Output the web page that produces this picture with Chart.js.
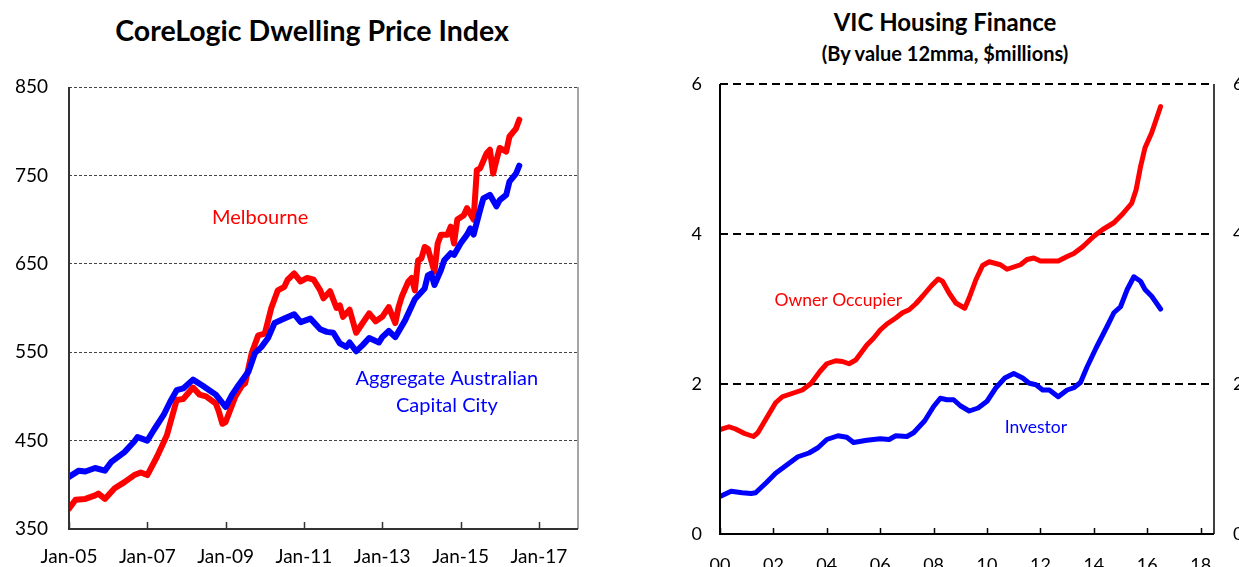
<!DOCTYPE html>
<html>
<head>
<meta charset="utf-8">
<title>CoreLogic Dwelling Price Index / VIC Housing Finance</title>
<script src="https://cdn.jsdelivr.net/npm/chart.js@4.4.1/dist/chart.umd.min.js"></script>
<style>
  html, body { margin: 0; padding: 0; width: 1239px; height: 567px; overflow: hidden; background: #fff; }
  body { position: relative; font-family: Lato, "Open Sans", sans-serif; }
  .box { position: absolute; top: 0; }
  .title { position: absolute; text-align: center; font-weight: bold; color: #000; white-space: nowrap; }
</style>
</head>
<body>
<div class="title" style="left:0;width:624px;top:13px;font-size:28.5px;line-height:34px;">CoreLogic Dwelling Price Index</div>
<div class="title" style="left:745px;width:400px;top:7px;font-size:24px;line-height:29px;">VIC Housing Finance</div>
<div class="title" style="left:745px;width:400px;top:41px;font-size:20px;line-height:24px;">(By value 12mma, $millions)</div>

<div class="box" style="left:0;width:620px;height:567px;"><canvas id="priceChart"></canvas></div>
<div class="box" style="left:640px;width:660px;height:590px;"><canvas id="financeChart"></canvas></div>

<script>
// ---- CoreLogic dwelling price index (monthly readings) ----
const melbDates = ['2005-01','2005-03','2005-06','2005-09','2005-10','2005-12','2006-03','2006-06','2006-09','2006-11',
  '2007-01','2007-04','2007-07','2007-10','2007-12','2008-03','2008-05','2008-07','2008-10','2008-11','2008-12','2009-01',
  '2009-04','2009-06','2009-07','2009-09','2009-11','2010-01','2010-03','2010-05','2010-07','2010-08','2010-10','2010-12',
  '2011-02','2011-04','2011-06','2011-07','2011-09','2011-11','2011-12','2012-01','2012-03','2012-05','2012-07','2012-09',
  '2012-11','2013-01','2013-03','2013-05','2013-06','2013-07','2013-09','2013-10','2013-11','2013-12','2014-01','2014-02',
  '2014-03','2014-05','2014-06','2014-07','2014-09','2014-10','2014-11','2014-12','2015-02','2015-03','2015-05','2015-06',
  '2015-07','2015-09','2015-10','2015-11','2015-12','2016-01','2016-03','2016-04','2016-06','2016-07'];
const melbValues = [373,383,384,388,390,384,396,403,411,414,
  411,432,456,496,497,510,502,500,492,482,469,471,
  500,512,515,549,569,571,600,620,624,632,639,630,
  634,632,620,611,619,600,603,590,598,572,583,594,
  585,590,601,583,601,613,630,634,620,654,656,669,
  667,641,673,683,683,692,673,700,705,713,700,756,
  758,775,779,752,767,781,777,794,803,813];

const aggDates = ['2005-01','2005-04','2005-06','2005-09','2005-12','2006-02','2006-06','2006-09','2006-10','2007-01',
  '2007-03','2007-06','2007-08','2007-10','2007-12','2008-03','2008-06','2008-08','2008-10','2009-01','2009-03','2009-05',
  '2009-08','2009-10','2009-12','2010-02','2010-04','2010-07','2010-10','2010-12','2011-03','2011-06','2011-08','2011-10',
  '2011-12','2012-02','2012-03','2012-05','2012-07','2012-09','2012-12','2013-01','2013-03','2013-05','2013-08','2013-11',
  '2014-02','2014-03','2014-04','2014-05','2014-07','2014-08','2014-10','2014-11','2015-01','2015-03','2015-04','2015-05',
  '2015-07','2015-08','2015-10','2015-12','2016-01','2016-03','2016-04','2016-06','2016-07'];
const aggValues = [409,416,415,419,416,426,437,449,454,450,
  462,479,494,507,509,519,512,507,502,488,502,513,
  528,549,556,566,583,588,593,584,588,576,573,572,
  560,556,561,551,558,566,561,567,574,567,586,610,
  622,637,639,626,643,654,662,660,673,683,690,683,
  711,724,728,715,722,728,743,752,761];

const priceTickYears = [2005, 2007, 2009, 2011, 2013, 2015, 2017];
const priceTickLabels = ['Jan-05', 'Jan-07', 'Jan-09', 'Jan-11', 'Jan-13', 'Jan-15', 'Jan-17'];

// ---- VIC housing finance, 12 month moving average ($ millions) ----
const ownerDates = ['2000-01','2000-05','2000-08','2000-12','2001-04','2001-06','2001-10','2002-02','2002-05','2002-10',
  '2003-02','2003-06','2003-10','2004-01','2004-05','2004-08','2004-11','2005-02','2005-07','2005-10','2006-01','2006-04',
  '2006-08','2006-11','2007-02','2007-05','2007-08','2007-12','2008-03','2008-05','2008-08','2008-11','2009-03','2009-05',
  '2009-08','2009-11','2010-02','2010-07','2010-10','2011-04','2011-07','2011-10','2012-01','2012-05','2012-09','2013-01',
  '2013-04','2013-08','2014-01','2014-05','2014-10','2015-02','2015-06','2015-08','2015-10','2015-12','2016-03','2016-07'];
const ownerValues = [1.39,1.43,1.40,1.34,1.30,1.35,1.55,1.75,1.83,1.88,
  1.92,2.01,2.17,2.27,2.31,2.30,2.27,2.32,2.52,2.61,2.72,2.80,
  2.88,2.95,2.99,3.07,3.17,3.31,3.40,3.37,3.21,3.08,3.01,3.15,
  3.39,3.58,3.63,3.59,3.53,3.59,3.66,3.68,3.64,3.64,3.64,3.70,
  3.74,3.83,3.97,4.06,4.15,4.27,4.41,4.59,4.90,5.15,5.35,5.70];

const investorDates = ['2000-01','2000-06','2000-11','2001-03','2001-05','2001-10','2002-02','2002-07','2002-12','2003-05',
  '2003-09','2004-01','2004-06','2004-10','2005-01','2005-07','2006-01','2006-05','2006-08','2007-01','2007-04','2007-09',
  '2008-01','2008-04','2008-07','2008-10','2009-01','2009-05','2009-09','2010-01','2010-05','2010-09','2011-01','2011-05',
  '2011-08','2011-11','2012-02','2012-05','2012-09','2013-01','2013-04','2013-07','2013-10','2014-02','2014-07','2014-10',
  '2015-01','2015-04','2015-07','2015-10','2015-12','2016-03','2016-07'];
const investorValues = [0.50,0.57,0.55,0.54,0.55,0.69,0.81,0.92,1.03,1.08,
  1.15,1.26,1.31,1.29,1.22,1.25,1.27,1.26,1.31,1.30,1.35,1.51,
  1.70,1.81,1.79,1.79,1.71,1.64,1.68,1.77,1.95,2.08,2.14,2.08,
  2.01,1.99,1.92,1.92,1.83,1.92,1.95,2.02,2.23,2.48,2.77,2.95,
  3.03,3.26,3.43,3.37,3.26,3.17,3.00];

const financeTickYears = [2000, 2002, 2004, 2006, 2008, 2010, 2012, 2014, 2016, 2018];
const financeTickLabels = ['00', '02', '04', '06', '08', '10', '12', '14', '16', '18'];

const FONT = 'Lato, "Open Sans", sans-serif';

function toYear(d) {
  const [y, m] = d.split('-').map(Number);
  return y + (m - 1) / 12;
}
function points(dates, values) {
  return dates.map((d, i) => ({ x: toYear(d), y: values[i] }));
}

// axis lines, inner tick marks and right frame edge
const axisMarks = {
  id: 'axisMarks',
  afterDraw(chart, args, opts) {
    const { ctx, chartArea: a, scales: { x } } = chart;
    ctx.save();
    ctx.lineCap = 'butt';
    ctx.strokeStyle = opts.tickColor;
    ctx.lineWidth = opts.tickWidth;
    x.ticks.forEach(t => {
      const px = Math.round(x.getPixelForValue(t.value)) + 0.5;
      ctx.beginPath();
      ctx.moveTo(px, a.bottom);
      ctx.lineTo(px, a.bottom - opts.tickLength);
      ctx.stroke();
    });
    ctx.strokeStyle = opts.rightColor;
    ctx.lineWidth = opts.rightWidth;
    ctx.beginPath();
    ctx.moveTo(a.right, a.top);
    ctx.lineTo(a.right, a.bottom);
    ctx.stroke();
    ctx.strokeStyle = opts.axisColor;
    ctx.lineWidth = opts.axisWidth;
    ctx.beginPath();
    ctx.moveTo(a.left, a.top);
    ctx.lineTo(a.left, a.bottom);
    ctx.lineTo(a.right, a.bottom);
    ctx.stroke();
    ctx.restore();
  }
};

// series name labels placed in data coordinates
const seriesLabels = {
  id: 'seriesLabels',
  afterDatasetsDraw(chart, args, opts) {
    const { ctx, scales: { x, y } } = chart;
    ctx.save();
    ctx.font = opts.font;
    ctx.textAlign = 'center';
    ctx.textBaseline = 'middle';
    opts.items.forEach(it => {
      ctx.fillStyle = it.color;
      ctx.fillText(it.text, x.getPixelForValue(it.x), y.getPixelForValue(it.y));
    });
    ctx.restore();
  }
};

function lineSet(label, data, color, width) {
  return {
    label, data, borderColor: color, backgroundColor: color, borderWidth: width,
    pointRadius: 0, tension: 0, borderJoinStyle: 'round', borderCapStyle: 'round', fill: false
  };
}

new Chart(document.getElementById('priceChart'), {
  type: 'line',
  data: {
    datasets: [
      lineSet('Aggregate Australian Capital City', points(aggDates, aggValues), '#0000ff', 6),
      lineSet('Melbourne', points(melbDates, melbValues), '#ff0000', 6)
    ]
  },
  options: {
    responsive: true,
    maintainAspectRatio: false,
    animation: false,
    layout: { padding: { top: 87, right: 42, bottom: 0, left: 0 } },
    scales: {
      x: {
        type: 'linear', min: 2005, max: 2018,
        afterBuildTicks: s => { s.ticks = priceTickYears.map(v => ({ value: v })); },
        afterFit: s => { s.height = 38; },
        ticks: { callback: (v, i) => priceTickLabels[i], padding: 16, color: '#000', font: { family: FONT, size: 19 }, maxRotation: 0, autoSkip: false },
        grid: { display: false, drawTicks: false },
        border: { display: false }
      },
      y: {
        min: 350, max: 850,
        ticks: { stepSize: 100, padding: 21, color: '#000', font: { family: FONT, size: 19 } },
        afterFit: s => { s.width = 69; },
        grid: { drawTicks: false, lineWidth: 1, color: c => c.tick.value === 350 ? 'rgba(0,0,0,0)' : '#444' },
        border: { display: false, dash: [3, 2] }
      }
    },
    plugins: {
      legend: { display: false },
      tooltip: { enabled: false },
      axisMarks: { tickColor: '#333', tickWidth: 1.5, tickLength: 7, rightColor: '#888', rightWidth: 1.5, axisColor: '#333', axisWidth: 2 },
      seriesLabels: {
        font: '20px ' + FONT,
        items: [
          { text: 'Melbourne', x: 2009.88, y: 702, color: '#ff0000' },
          { text: 'Aggregate Australian', x: 2014.65, y: 520, color: '#0000ff' },
          { text: 'Capital City', x: 2014.65, y: 490, color: '#0000ff' }
        ]
      }
    }
  },
  plugins: [axisMarks, seriesLabels]
});

new Chart(document.getElementById('financeChart'), {
  type: 'line',
  data: {
    datasets: [
      lineSet('Owner Occupier', points(ownerDates, ownerValues), '#ff0000', 5),
      lineSet('Investor', points(investorDates, investorValues), '#0000ff', 5)
    ]
  },
  options: {
    responsive: true,
    maintainAspectRatio: false,
    animation: false,
    layout: { padding: { top: 84, right: 26, bottom: 0, left: 0 } },
    scales: {
      x: {
        type: 'linear', min: 2000, max: 2018.5,
        afterBuildTicks: s => { s.ticks = financeTickYears.map(v => ({ value: v })); },
        afterFit: s => { s.height = 56; },
        ticks: { callback: (v, i) => financeTickLabels[i], padding: 20, color: '#000', font: { family: FONT, size: 18 }, maxRotation: 0, autoSkip: false },
        grid: { display: false, drawTicks: false },
        border: { display: false }
      },
      y: {
        min: 0, max: 6,
        ticks: { stepSize: 2, padding: 18, color: '#000', font: { family: FONT, size: 18 } },
        afterFit: s => { s.width = 80; },
        grid: { drawTicks: false, lineWidth: 2, color: c => c.tick.value === 0 ? 'rgba(0,0,0,0)' : '#000' },
        border: { display: false, dash: [8, 5] }
      },
      y2: {
        position: 'right', min: 0, max: 6,
        ticks: { stepSize: 2, padding: 19, color: '#000', font: { family: FONT, size: 18 } },
        afterFit: s => { s.width = 60; },
        grid: { display: false, drawTicks: false },
        border: { display: false }
      }
    },
    plugins: {
      legend: { display: false },
      tooltip: { enabled: false },
      axisMarks: { tickColor: '#000', tickWidth: 1.5, tickLength: 6, rightColor: '#000', rightWidth: 1.5, axisColor: '#000', axisWidth: 2 },
      seriesLabels: {
        font: '17.5px ' + FONT,
        items: [
          { text: 'Owner Occupier', x: 2004.43, y: 3.11, color: '#ff0000' },
          { text: 'Investor', x: 2011.83, y: 1.42, color: '#0000ff' }
        ]
      }
    }
  },
  plugins: [axisMarks, seriesLabels]
});
</script>
</body>
</html>
